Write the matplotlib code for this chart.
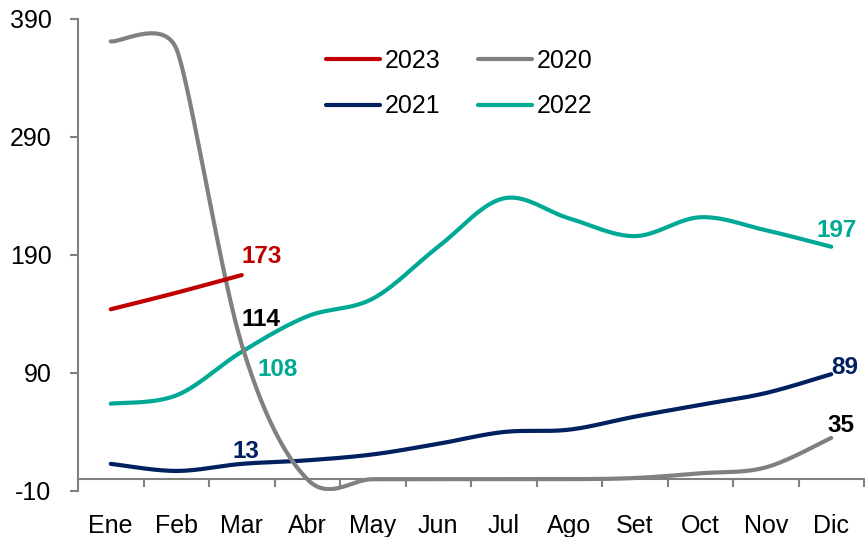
import matplotlib
matplotlib.use('Agg')
import matplotlib.pyplot as plt
import numpy as np

plt.rcParams['font.family'] = ['Liberation Sans', 'DejaVu Sans']
plt.rcParams['axes.unicode_minus'] = False

months = ['Ene', 'Feb', 'Mar', 'Abr', 'May', 'Jun',
          'Jul', 'Ago', 'Set', 'Oct', 'Nov', 'Dic']

y2020 = [371, 365, 114, 0, 0, 0, 0, 0, 1, 5, 10, 35]
y2021 = [13, 7, 13, 16, 21, 30, 40, 42, 53, 63, 73, 89]
y2022 = [64, 71, 108, 138, 153, 197, 238, 221, 206, 222, 211, 197]
y2023 = [144, 158, 173]

RED = '#C00000'
GRAY = '#808080'
NAVY = '#002060'
TEAL = '#00A896'

# pixel size of one data unit, used so the smoothing works in screen space
SX, SY = 65.5, 1.18


def smooth(xs, ys, n=40):
    # Excel-like smoothed line: bezier, tangent (P2-P0)/6 clamped to half
    # of the shorter neighbouring segment
    p = np.column_stack([np.asarray(xs, float) * SX, np.asarray(ys, float) * SY])
    m = len(p)
    cb = np.zeros_like(p)
    ca = np.zeros_like(p)
    for i in range(m):
        p0 = p[max(i - 1, 0)]
        p2 = p[min(i + 1, m - 1)]
        tan = p2 - p0
        d02 = np.hypot(*tan)
        d01 = np.hypot(*(p[i] - p0))
        d12 = np.hypot(*(p2 - p[i]))
        dmin = min(d for d in (d01, d12) if d > 0)
        f = 1 / 6.0
        if d02 > 0 and d02 / 6.0 > dmin / 2.0:
            f = dmin / (2 * d02)
        cb[i] = p[i] - f * tan
        ca[i] = p[i] + f * tan
    t = np.linspace(0, 1, n)[:, None]
    out = []
    for i in range(m - 1):
        b = (1 - t) ** 3 * p[i] + 3 * (1 - t) ** 2 * t * ca[i] \
            + 3 * (1 - t) * t ** 2 * cb[i + 1] + t ** 3 * p[i + 1]
        out.append(b)
    out = np.vstack(out)
    return out[:, 0] / SX, out[:, 1] / SY


fig = plt.figure(figsize=(8.65, 5.37), dpi=100)
ax = fig.add_axes([78 / 865, 1 - 491 / 537, (864 - 78) / 865, (491 - 19) / 537])

xc = np.arange(12) + 0.5

series = [
    (y2022, TEAL, '2022'),
    (y2021, NAVY, '2021'),
    (y2020, GRAY, '2020'),
    (y2023, RED, '2023'),
]
handles = {}
for ys, col, name in series:
    sx, sy = smooth(xc[:len(ys)], ys)
    ln, = ax.plot(sx, sy, color=col, lw=3, solid_capstyle='round', label=name)
    handles[name] = ln

ax.set_xlim(0, 12)
ax.set_ylim(-10, 390)

# axes styling
for s in ['top', 'right']:
    ax.spines[s].set_visible(False)
ax.spines['left'].set_color(GRAY)
ax.spines['left'].set_linewidth(1.5)
ax.spines['bottom'].set_color(GRAY)
ax.spines['bottom'].set_linewidth(1.5)
ax.spines['bottom'].set_position(('data', 0))

ax.set_yticks([-10, 90, 190, 290, 390])
ax.tick_params(axis='y', colors=GRAY, length=6, width=1.5, labelsize=18,
               labelcolor='black', pad=13)

ax.set_xticks(np.arange(13))
ax.set_xticklabels([])
ax.set_xticks(xc, minor=True)
ax.set_xticklabels(months, minor=True)
ax.tick_params(axis='x', which='major', colors=GRAY, length=6, width=1.5,
               direction='out')
ax.tick_params(axis='x', which='minor', length=0, labelsize=18,
               labelcolor='black', pad=25)

# data labels
lab_kw = dict(fontsize=17.5, fontweight='bold', textcoords='offset points')
ax.annotate('173', (xc[2], y2023[2]), xytext=(0, 5), color=RED,
            ha='left', va='bottom', **lab_kw)
ax.annotate('114', (xc[2], y2020[2]), xytext=(0, 18), color='black',
            ha='left', va='center', **lab_kw)
ax.annotate('108', (xc[2], y2022[2]), xytext=(11, -13), color=TEAL,
            ha='left', va='center', **lab_kw)
ax.annotate('13', (xc[2], y2021[2]), xytext=(3, 9), color=NAVY,
            ha='center', va='center', **lab_kw)
ax.annotate('89', (xc[11], y2021[11]), xytext=(0, 5), color=NAVY,
            ha='left', va='center', **lab_kw)
ax.annotate('197', (xc[11], y2022[11]), xytext=(4, 12), color=TEAL,
            ha='center', va='center', **lab_kw)
ax.annotate('35', (xc[11], y2020[11]), xytext=(7, 9), color='black',
            ha='center', va='center', **lab_kw)

order = ['2023', '2021', '2020', '2022']
ax.legend([handles[k] for k in order], order, ncol=2, frameon=False,
          fontsize=18, loc='upper left', bbox_to_anchor=(326 / 865, 1 - 49 / 537),
          bbox_transform=fig.transFigure, handlelength=2.15, handletextpad=0.2,
          columnspacing=1.5, labelspacing=0.85, borderaxespad=0, borderpad=0)

fig.savefig('out.png', dpi=100)
